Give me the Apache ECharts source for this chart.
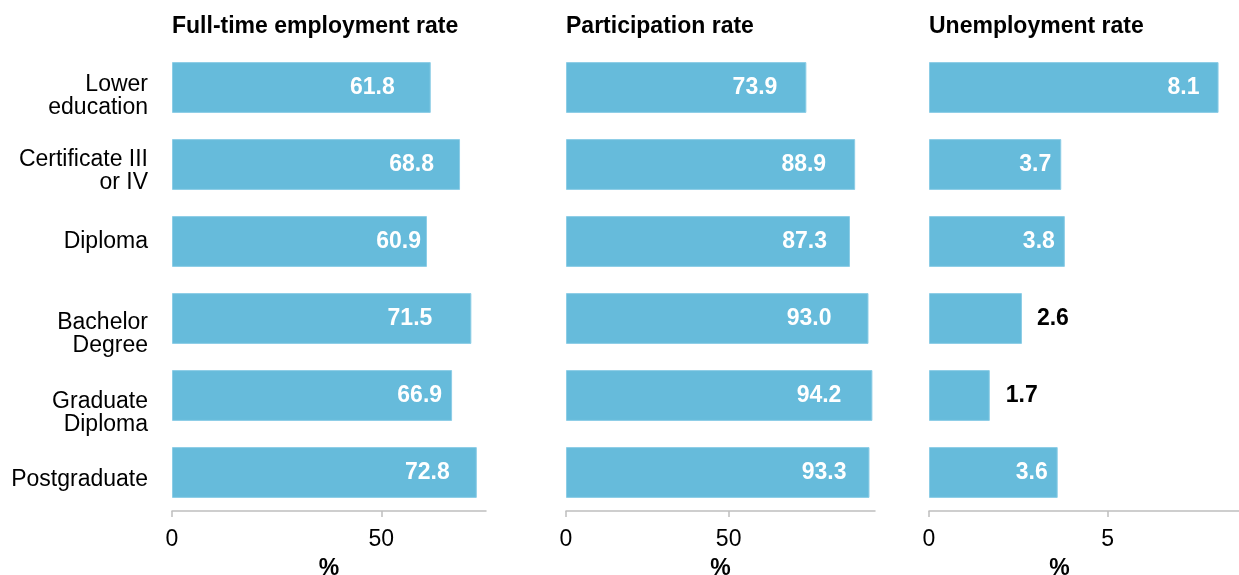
<!DOCTYPE html>
<html><head><meta charset="utf-8">
<script src="https://cdn.jsdelivr.net/npm/echarts@6/dist/echarts.min.js"></script>
<style>html,body{margin:0;padding:0;background:#fff}#c{width:1239px;height:575px}</style>
</head><body><div id="c"></div>
<script>
const categories = ['Lower\neducation', 'Certificate III\nor IV', 'Diploma', 'Bachelor\nDegree', 'Graduate\nDiploma', 'Postgraduate'];
const panelTitles = ['Full-time employment rate', 'Participation rate', 'Unemployment rate'];
const fullTimeEmployment = [61.8, 68.8, 60.9, 71.5, 66.9, 72.8];
const participation = [73.9, 88.9, 87.3, 93.0, 94.2, 93.3];
const unemployment = [8.1, 3.7, 3.8, 2.6, 1.7, 3.6];
const tickValues1 = [0, 50];
const tickValues2 = [0, 50];
const tickValues3 = [0, 5];
const axisMaxes = [75, 95, 8.7];
const axisUnit = '%';

const FONT = "'Liberation Sans', Arial, sans-serif";
const BAR = '#66BBDB';
const AXIS = '#BFBFBF';

const grids = [
  { left: 172, width: 314, top: 49, height: 462, outerBoundsMode: 'none', containLabel: false },
  { left: 566, width: 309, top: 49, height: 462, outerBoundsMode: 'none', containLabel: false },
  { left: 929, width: 311, top: 49, height: 462, outerBoundsMode: 'none', containLabel: false }
];
const seriesValues = [fullTimeEmployment, participation, unemployment];
const tickSets = [tickValues1, tickValues2, tickValues3];
const outsideThreshold = [0, 0, 3];
// label spacing from bar end (style only), as hand-placed in the reference
const labelGap = [
  [36, 26, 6, 39, 10, 27],
  [29, 29, 23, 37, 31, 23],
  [19, 10, 10, 15, 16, 10]
];

// category label vertical nudges (style only), as in the reference layout
const LINE_H = 23;
const nudge = [9, 7, 0, 16, 18, 7];
const rich = { b: { fontFamily: FONT, fontSize: 23, color: '#000', lineHeight: LINE_H } };
nudge.forEach((d, k) => {
  rich['l' + k] = { fontFamily: FONT, fontSize: 23, color: '#000', lineHeight: LINE_H + 2 * d, verticalAlign: 'bottom' };
});
const catFormatter = (val, idx) => String(val).split('\n')
  .map((s, k) => k === 0 ? '{l' + idx + '|' + s + '}' : '{b|' + s + '}').join('\n');

const option = {
  animation: false,
  backgroundColor: '#fff',
  title: panelTitles.map((t, i) => ({
    text: t, left: grids[i].left, top: 15, padding: 0,
    textStyle: { fontFamily: FONT, fontSize: 23, fontWeight: 'bold', color: '#000' }
  })),
  grid: grids,
  xAxis: grids.map((g, i) => ({
    type: 'value', gridIndex: i, min: 0, max: axisMaxes[i],
    splitLine: { show: false },
    axisLine: { show: true, lineStyle: { color: AXIS, width: 1.5 } },
    axisTick: { show: true, length: 6, lineStyle: { color: AXIS, width: 1.5 }, customValues: tickSets[i] },
    axisLabel: { customValues: tickSets[i], margin: 17, fontFamily: FONT, fontSize: 23, color: '#000' },
    name: axisUnit, nameLocation: 'middle', nameGap: 46,
    nameTextStyle: { fontFamily: FONT, fontSize: 23, fontWeight: 'bold', color: '#000',
      padding: i === 2 ? [0, 50, 0, 0] : 0 }
  })),
  yAxis: grids.map((g, i) => ({
    type: 'category', gridIndex: i, data: categories, inverse: true,
    axisLine: { show: false }, axisTick: { show: false },
    axisLabel: { show: i === 0, margin: 24, fontFamily: FONT, fontSize: 23, lineHeight: LINE_H, color: '#000', align: 'right',
      formatter: catFormatter, rich: rich }
  })),
  series: seriesValues.map((vals, i) => ({
    type: 'bar', xAxisIndex: i, yAxisIndex: i, barWidth: '66%',
    itemStyle: { color: BAR, borderColor: '#8CCDE6', borderWidth: 1 },
    label: {
      show: true, position: 'insideRight',
      formatter: p => p.value.toFixed(1),
      fontFamily: FONT, fontSize: 23, fontWeight: 'bold', color: '#fff'
    },
    data: vals.map((v, k) => v < outsideThreshold[i]
      ? { value: v, label: { position: 'right', distance: labelGap[i][k], color: '#000' } }
      : { value: v, label: { distance: labelGap[i][k] } })
  }))
};
echarts.init(document.getElementById('c'), null, { renderer: 'canvas' }).setOption(option);
</script>
</body></html>
